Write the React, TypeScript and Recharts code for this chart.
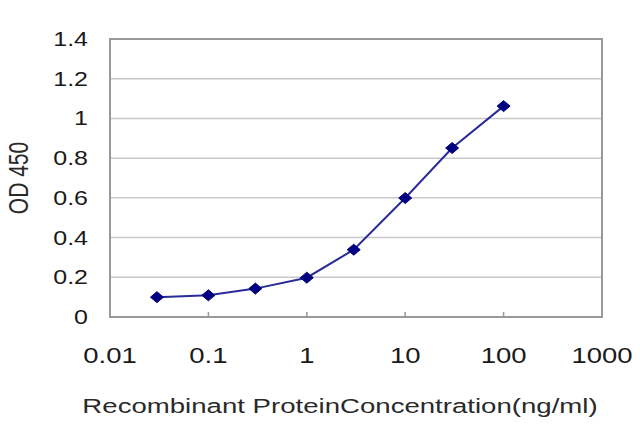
import { LineChart, Line, XAxis, YAxis, CartesianGrid, ReferenceArea } from 'recharts';

const concentrations = [0.03, 0.1, 0.3, 1, 3, 10, 30, 100];
const odValues = [0.1, 0.109, 0.143, 0.198, 0.339, 0.599, 0.851, 1.062];
const xTicks = [0.01, 0.1, 1, 10, 100, 1000];
const xTickLabels = ['0.01', '0.1', '1', '10', '100', '1000'];
const yTicks = [0, 0.2, 0.4, 0.6, 0.8, 1, 1.2, 1.4];
const yTickLabels = ['0', '0.2', '0.4', '0.6', '0.8', '1', '1.2', '1.4'];

const data = concentrations.map((c, i) => ({ conc: c, od: odValues[i] }));

const FONT = 'Liberation Sans, Arial, sans-serif';
const STRETCH = 1.25;

function XTick({ x, y, payload }: any) {
  const i = xTicks.indexOf(payload.value);
  return (
    <text
      transform={`translate(${x},${y + 46}) scale(${STRETCH},1)`}
      textAnchor="middle"
      fontFamily={FONT}
      fontSize={22}
      fill="#1a1a1a"
    >
      {xTickLabels[i] ?? payload.value}
    </text>
  );
}

function YTick({ x, y, payload }: any) {
  const i = yTicks.indexOf(payload.value);
  return (
    <text
      transform={`translate(${x},${y + 7}) scale(${STRETCH},1)`}
      textAnchor="end"
      fontFamily={FONT}
      fontSize={20}
      fill="#1a1a1a"
    >
      {yTickLabels[i] ?? payload.value}
    </text>
  );
}

function Diamond({ cx, cy }: any) {
  if (cx == null || cy == null) return null;
  return (
    <polygon
      points={`${cx},${cy - 5.5} ${cx + 6.5},${cy} ${cx},${cy + 5.5} ${cx - 6.5},${cy}`}
      fill="#000080"
      stroke="#000080"
    />
  );
}

export default function App() {
  return (
    <div style={{ position: 'absolute', left: 0, top: 0, width: 640, height: 427, background: '#fff' }}>
      <LineChart width={640} height={427} data={data} margin={{ top: 39, right: 38, left: 0, bottom: 0 }}>
        <CartesianGrid horizontal vertical={false} stroke="#c8c8c8" strokeWidth={1.5} />
        <ReferenceArea x1={0.01} x2={1000} y1={0} y2={1.4} fill="none" stroke="#999" strokeWidth={2} />
        <XAxis
          dataKey="conc"
          type="number"
          scale="log"
          domain={[0.01, 1000]}
          ticks={xTicks}
          allowDataOverflow
          height={110}
          tickSize={-5}
          tickMargin={5}
          tickLine={{ stroke: '#999', strokeWidth: 1.5 }}
          axisLine={{ stroke: '#999', strokeWidth: 2 }}
          tick={<XTick />}
          interval={0}
          label={{
            content: () => (
              <text
                transform={`translate(340,413) scale(1.38,1)`}
                textAnchor="middle"
                fontFamily={FONT}
                fontSize={20}
                fill="#2a2a2a"
              >
                Recombinant ProteinConcentration(ng/ml)
              </text>
            ),
          }}
        />
        <YAxis
          type="number"
          domain={[0, 1.4]}
          ticks={yTicks}
          width={110}
          tickLine={false}
          tickMargin={16}
          axisLine={{ stroke: '#999', strokeWidth: 2 }}
          tick={<YTick />}
          interval={0}
          label={{
            content: () => (
              <text
                transform={`translate(28,178) scale(1.3,1) rotate(-90)`}
                textAnchor="middle"
                fontFamily={FONT}
                fontSize={21}
                fill="#2a2a2a"
              >
                OD 450
              </text>
            ),
          }}
        />
        <Line
          type="linear"
          dataKey="od"
          stroke="#2a2a9a"
          strokeWidth={2}
          dot={<Diamond />}
          activeDot={false}
          isAnimationActive={false}
        />
      </LineChart>
    </div>
  );
}
